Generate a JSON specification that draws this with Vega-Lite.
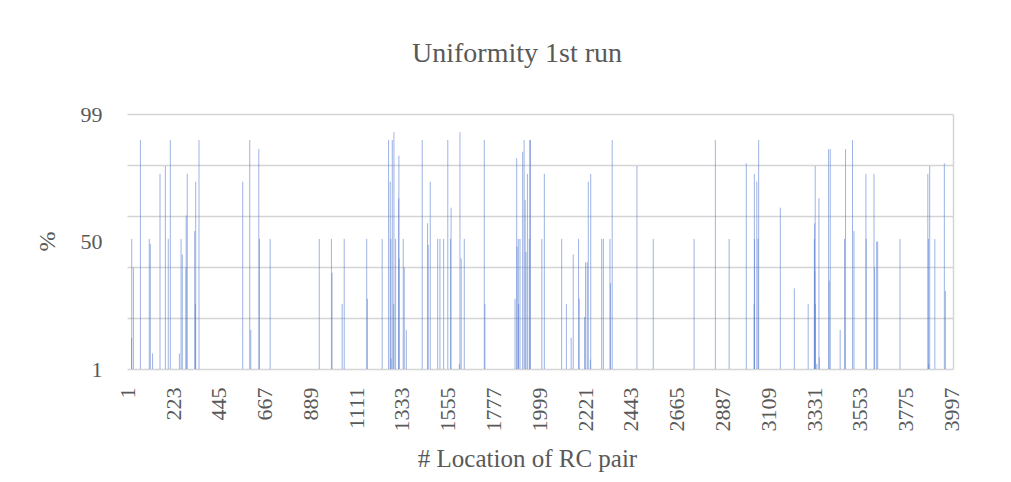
{
  "$schema": "https://vega.github.io/schema/vega-lite/v6.json",
  "width": 826,
  "height": 255,
  "autosize": {"type": "none"},
  "padding": {"left": 127, "top": 114, "right": 58, "bottom": 113},
  "background": "white",
  "config": {
    "view": {"stroke": null},
    "font": "Liberation Serif"
  },
  "title": {
    "text": "Uniformity 1st run",
    "font": "Liberation Serif",
    "fontSize": 28,
    "fontWeight": "normal",
    "color": "#595959",
    "frame": "group",
    "anchor": "middle",
    "baseline": "alphabetic",
    "offset": 13,
    "dx": -23
  },
  "data": {
    "values": [
      {"loc": 22, "pct": 13}, {"loc": 23, "pct": 51}, {"loc": 31, "pct": 40}, {"loc": 65, "pct": 89},
      {"loc": 108, "pct": 51}, {"loc": 113, "pct": 49}, {"loc": 124, "pct": 7}, {"loc": 160, "pct": 76},
      {"loc": 186, "pct": 79}, {"loc": 200, "pct": 51}, {"loc": 210, "pct": 89}, {"loc": 254, "pct": 7},
      {"loc": 262, "pct": 51}, {"loc": 268, "pct": 45}, {"loc": 286, "pct": 40}, {"loc": 287, "pct": 60},
      {"loc": 292, "pct": 76}, {"loc": 328, "pct": 54}, {"loc": 332, "pct": 26}, {"loc": 333, "pct": 73},
      {"loc": 349, "pct": 89}, {"loc": 561, "pct": 73}, {"loc": 595, "pct": 89}, {"loc": 600, "pct": 16},
      {"loc": 639, "pct": 85.5}, {"loc": 642, "pct": 51}, {"loc": 694, "pct": 51}, {"loc": 932, "pct": 51},
      {"loc": 991, "pct": 51}, {"loc": 994, "pct": 38}, {"loc": 1043, "pct": 26}, {"loc": 1053, "pct": 51},
      {"loc": 1162, "pct": 51}, {"loc": 1165, "pct": 28}, {"loc": 1237, "pct": 51}, {"loc": 1268, "pct": 89},
      {"loc": 1276, "pct": 73}, {"loc": 1279, "pct": 51}, {"loc": 1280, "pct": 5}, {"loc": 1286, "pct": 89},
      {"loc": 1293, "pct": 26}, {"loc": 1294, "pct": 92}, {"loc": 1302, "pct": 51}, {"loc": 1317, "pct": 66.6},
      {"loc": 1318, "pct": 83}, {"loc": 1319, "pct": 43.5}, {"loc": 1339, "pct": 51}, {"loc": 1344, "pct": 40},
      {"loc": 1354, "pct": 16}, {"loc": 1431, "pct": 89}, {"loc": 1457, "pct": 57}, {"loc": 1460, "pct": 48.7},
      {"loc": 1470, "pct": 73}, {"loc": 1506, "pct": 51}, {"loc": 1517, "pct": 51}, {"loc": 1535, "pct": 51},
      {"loc": 1555, "pct": 89}, {"loc": 1568, "pct": 51}, {"loc": 1571, "pct": 63}, {"loc": 1611, "pct": 3},
      {"loc": 1614, "pct": 92}, {"loc": 1620, "pct": 43.5}, {"loc": 1635, "pct": 51}, {"loc": 1732, "pct": 89},
      {"loc": 1735, "pct": 26}, {"loc": 1881, "pct": 28}, {"loc": 1889, "pct": 82}, {"loc": 1891, "pct": 48},
      {"loc": 1897, "pct": 51}, {"loc": 1898, "pct": 26}, {"loc": 1905, "pct": 51}, {"loc": 1918, "pct": 84.5},
      {"loc": 1925, "pct": 89}, {"loc": 1930, "pct": 66}, {"loc": 1934, "pct": 46}, {"loc": 1941, "pct": 76},
      {"loc": 1950, "pct": 51}, {"loc": 1952, "pct": 89}, {"loc": 1956, "pct": 89}, {"loc": 2011, "pct": 51},
      {"loc": 2023, "pct": 76}, {"loc": 2107, "pct": 51}, {"loc": 2130, "pct": 26}, {"loc": 2153, "pct": 13},
      {"loc": 2163, "pct": 45}, {"loc": 2189, "pct": 51}, {"loc": 2192, "pct": 28}, {"loc": 2218, "pct": 21},
      {"loc": 2223, "pct": 42}, {"loc": 2231, "pct": 42}, {"loc": 2236, "pct": 73}, {"loc": 2246, "pct": 4.6},
      {"loc": 2248, "pct": 76}, {"loc": 2301, "pct": 51}, {"loc": 2309, "pct": 51}, {"loc": 2341, "pct": 51},
      {"loc": 2344, "pct": 34}, {"loc": 2352, "pct": 89}, {"loc": 2472, "pct": 79}, {"loc": 2551, "pct": 51},
      {"loc": 2749, "pct": 51}, {"loc": 2852, "pct": 89}, {"loc": 2919, "pct": 51}, {"loc": 3002, "pct": 80},
      {"loc": 3040, "pct": 26}, {"loc": 3041, "pct": 76}, {"loc": 3042, "pct": 51}, {"loc": 3053, "pct": 73},
      {"loc": 3059, "pct": 51}, {"loc": 3062, "pct": 89}, {"loc": 3167, "pct": 63}, {"loc": 3235, "pct": 32},
      {"loc": 3302, "pct": 26}, {"loc": 3332, "pct": 51}, {"loc": 3333, "pct": 57}, {"loc": 3334, "pct": 38.5},
      {"loc": 3336, "pct": 79}, {"loc": 3337, "pct": 26}, {"loc": 3344, "pct": 3}, {"loc": 3354, "pct": 66.6},
      {"loc": 3356, "pct": 5.5}, {"loc": 3401, "pct": 85.5}, {"loc": 3404, "pct": 35}, {"loc": 3409, "pct": 85.5},
      {"loc": 3457, "pct": 16}, {"loc": 3478, "pct": 51}, {"loc": 3483, "pct": 85.5}, {"loc": 3517, "pct": 89},
      {"loc": 3524, "pct": 54}, {"loc": 3582, "pct": 76}, {"loc": 3583, "pct": 51}, {"loc": 3621, "pct": 76},
      {"loc": 3624, "pct": 40}, {"loc": 3634, "pct": 50}, {"loc": 3639, "pct": 50}, {"loc": 3747, "pct": 51},
      {"loc": 3882, "pct": 76}, {"loc": 3885, "pct": 51}, {"loc": 3886, "pct": 3}, {"loc": 3891, "pct": 79},
      {"loc": 3916, "pct": 51}, {"loc": 3962, "pct": 80}, {"loc": 3967, "pct": 31}
    ]
  },
  "layer": [
    {
      "mark": {"type": "rule", "color": "#5b80d0", "strokeWidth": 1, "opacity": 0.6},
      "encoding": {
        "x": {
          "field": "loc",
          "type": "quantitative",
          "scale": {"domain": [0, 4004], "nice": false, "zero": false},
          "axis": {
            "values": [1, 223, 445, 667, 889, 1111, 1333, 1555, 1777, 1999, 2221, 2443, 2665, 2887, 3109, 3331, 3553, 3775, 3997],
            "format": "d",
            "labelAngle": -90,
            "labelPadding": 18,
            "labelFont": "Liberation Serif",
            "labelFontSize": 22,
            "labelColor": "#595959",
            "labelOverlap": false,
            "labelFlush": false,
            "ticks": false,
            "domain": false,
            "grid": false,
            "title": "# Location of RC pair",
            "titleFont": "Liberation Serif",
            "titleFontSize": 25,
            "titleFontWeight": "normal",
            "titleColor": "#595959",
            "titleX": 400,
            "titleY": 97,
            "titleAlign": "center",
            "titleBaseline": "alphabetic"
          }
        },
        "y": {
          "field": "pct",
          "type": "quantitative",
          "scale": {"domain": [1, 99], "nice": false, "zero": false},
          "axis": {
            "values": [1, 20.6, 40.2, 50, 59.8, 79.4, 99],
            "labelExpr": "datum.value == 1 || datum.value == 50 || datum.value == 99 ? format(datum.value, 'd') : ''",
            "labelPadding": 25,
            "labelFont": "Liberation Serif",
            "labelFontSize": 22,
            "labelColor": "#595959",
            "labelOverlap": false,
            "labelFlush": false,
            "ticks": false,
            "domain": false,
            "grid": true,
            "gridColor": "#d4d4d4",
            "gridWidth": 1.5,
            "gridOpacity": {"condition": {"test": "datum.value == 50", "value": 0}, "value": 1},
            "title": "%",
            "titleFont": "Liberation Serif",
            "titleFontSize": 24,
            "titleFontWeight": "normal",
            "titleColor": "#595959",
            "titleAngle": -90,
            "titleX": -80,
            "titleY": 127,
            "titleAlign": "center",
            "titleBaseline": "middle"
          }
        },
        "y2": {"datum": 1}
      }
    },
    {
      "mark": {"type": "rule", "opacity": 0},
      "encoding": {
        "x": {"field": "loc", "type": "quantitative"},
        "y": {
          "field": "pct",
          "type": "quantitative",
          "axis": {
            "orient": "right",
            "labels": false,
            "ticks": false,
            "grid": false,
            "domain": true,
            "domainColor": "#d4d4d4",
            "domainWidth": 1.5,
            "title": null
          }
        },
        "y2": {"datum": 1}
      }
    }
  ],
  "resolve": {"axis": {"y": "independent"}}
}
